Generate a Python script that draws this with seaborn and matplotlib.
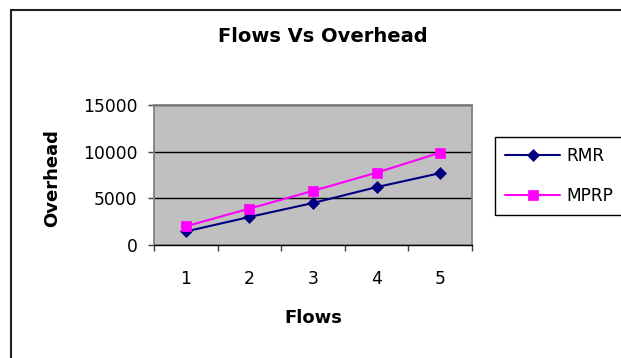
import numpy as np
import pandas as pd
import matplotlib
matplotlib.use("Agg")
import matplotlib.pyplot as plt
import seaborn as sns
from matplotlib.ticker import FixedLocator
from matplotlib.patches import Rectangle

# Overhead per number of flows for the two routing protocols
flows = [1, 2, 3, 4, 5]
rmr = [1450, 3000, 4500, 6200, 7700]
mprp = [2000, 3900, 5800, 7750, 9900]
series_names = ["RMR", "MPRP"]
y_ticks = [0, 5000, 10000, 15000]

df = pd.DataFrame({
    "Flows": flows * 2,
    "Overhead": rmr + mprp,
    "Protocol": [series_names[0]] * len(flows) + [series_names[1]] * len(flows),
})

sns.set_style("white")
plt.rcParams["font.family"] = ["DejaVu Sans"]
plt.rcParams.update({
    "text.color": "black",
    "axes.labelcolor": "black",
    "xtick.color": "black",
    "ytick.color": "black",
})

W, H = 621, 358
fig = plt.figure(figsize=(W / 100, H / 100), dpi=100)
fig.patch.set_facecolor("white")

# plot area in pixel terms: left 154, right 472, top 105, bottom 245
ax = fig.add_axes([154 / W, (H - 245) / H, 318 / W, 140 / H])
ax.set_facecolor("#C0C0C0")

colors = {"RMR": "#000080", "MPRP": "#FF00FF"}
markers = {"RMR": "D", "MPRP": "s"}
sns.lineplot(data=df, x="Flows", y="Overhead", hue="Protocol", style="Protocol",
             hue_order=series_names, style_order=series_names,
             palette=colors, markers=markers, dashes=False,
             linewidth=1.5, legend=False, ax=ax)

for line in ax.lines:
    c = line.get_color()
    line.set_markeredgecolor(c)
    line.set_markerfacecolor(c)
    line.set_markeredgewidth(0.5)
    line.set_markersize(6.4 if line.get_marker() == "D" else 7.8)

ax.set_xlim(0.5, 5.5)
ax.set_ylim(y_ticks[0], y_ticks[-1])
ax.set_xticks(flows)
ax.set_xticklabels([str(f) for f in flows])
ax.xaxis.set_minor_locator(FixedLocator(np.arange(0.5, len(flows) + 1, 1.0)))
ax.set_yticks(y_ticks)
ax.set_yticklabels([str(v) for v in y_ticks])

ax.tick_params(axis="x", which="major", bottom=True, length=0, pad=18,
               labelsize=12.3, labelcolor="black")
ax.tick_params(axis="x", which="minor", bottom=True, length=4.3, width=1,
               color="#404040", direction="out")
ax.tick_params(axis="y", left=True, length=4.3, width=1, color="#404040",
               direction="out", pad=7.5, labelsize=12.3, labelcolor="black")

ax.grid(axis="y", color="black", linewidth=1)
ax.grid(axis="x", visible=False)
ax.set_axisbelow(True)

for side in ["left", "top", "right"]:
    ax.spines[side].set_color("#808080")
    ax.spines[side].set_linewidth(1.3)
    ax.spines[side].set_visible(True)
ax.spines["bottom"].set_color("black")
ax.spines["bottom"].set_linewidth(1.0)

ax.set_xlabel("Flows", fontsize=13, fontweight="bold", color="black")
ax.xaxis.set_label_coords(0.5, (245 - 318) / 140)
ax.xaxis.label.set_va("center")
ax.set_ylabel("Overhead", fontsize=13, fontweight="bold", color="black")
ax.yaxis.set_label_coords((52.5 - 154) / 318, (245 - 178) / 140)
ax.yaxis.label.set_va("center")
ax.yaxis.label.set_ha("center")

fig.text(323 / W, 1 - 36 / H, "Flows Vs Overhead", ha="center", va="center",
         fontsize=14, fontweight="bold", color="black")

# chart frame around the whole figure
fig.patches.append(Rectangle((10.5 / W, -0.1), 1.2, 1 - 10 / H + 0.1,
                             transform=fig.transFigure, fill=False,
                             edgecolor="#202020", linewidth=1.5, clip_on=False))

leg = ax.legend(ax.lines[:2], series_names, loc="upper left",
                bbox_to_anchor=(495 / W, 1 - 137 / H), bbox_transform=fig.transFigure,
                borderaxespad=0, fontsize=12.3, frameon=True, fancybox=False,
                framealpha=1, edgecolor="black", handlelength=3.2,
                handletextpad=0.4, labelspacing=1.25, borderpad=0.6)
leg.get_frame().set_linewidth(1.0)
for t in leg.get_texts():
    t.set_color("black")

fig.savefig("out.png", dpi=100)
